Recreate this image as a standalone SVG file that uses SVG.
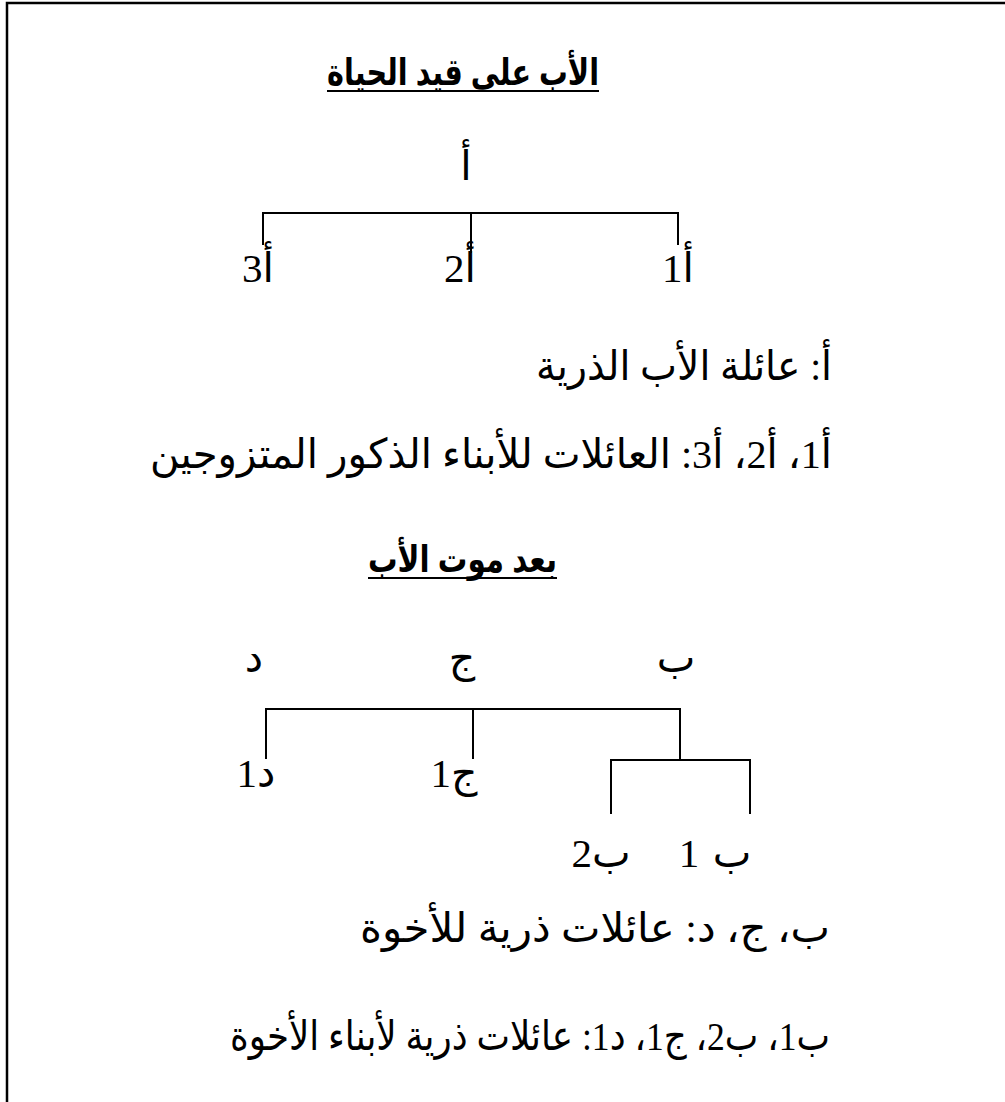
<svg xmlns="http://www.w3.org/2000/svg" width="1005" height="1102" viewBox="0 0 1005 1102">
<style>
.t{font-family:"Liberation Serif","DejaVu Sans",serif;font-size:41px;fill:#000}
.h{font-family:"Liberation Sans","DejaVu Sans",sans-serif;font-size:37px;font-weight:bold;fill:#000}
.c{stroke:#000;stroke-width:2;fill:none}
</style>
<rect width="1005" height="1102" fill="#fff"/>
<path d="M7,1102 V3 H1005" stroke="#000" stroke-width="2.5" fill="none"/>
<g id="title1">
<text class="h" x="463" y="85" text-anchor="middle" textLength="272" lengthAdjust="spacingAndGlyphs">الأب على قيد الحياة</text>
<line class="c" x1="327" y1="91" x2="599" y2="91"/>
</g>
<g id="title2">
<text class="h" x="462.5" y="572" text-anchor="middle" textLength="189" lengthAdjust="spacingAndGlyphs">بعد موت الأب</text>
<line class="c" x1="368" y1="578" x2="557" y2="578"/>
</g>
<g id="connectors">
<path class="c" d="M263,245 V213 H678 V245 M471,213 V253"/>
<path class="c" d="M266,759 V709 H680 V760 M473,709 V759 M611,814 V760 H750 V814"/>
</g>
<g id="nodeA"><text class="t" x="466" y="180" text-anchor="middle">أ</text></g>
<g id="nodeA3"><text class="t" x="258" y="282" text-anchor="middle">أ3</text></g>
<g id="nodeA2"><text class="t" x="460" y="282" text-anchor="middle">أ2</text></g>
<g id="nodeA1"><text class="t" x="678" y="282" text-anchor="middle">أ1</text></g>
<g id="nodeD"><text class="t" x="254" y="672" text-anchor="middle">د</text></g>
<g id="nodeJ"><text class="t" x="462" y="672" text-anchor="middle">ج</text></g>
<g id="nodeB"><text class="t" x="676" y="672" text-anchor="middle">ب</text></g>
<g id="nodeD1"><text class="t" x="256" y="787" text-anchor="middle">د1</text></g>
<g id="nodeJ1"><text class="t" x="454" y="787" text-anchor="middle">ج1</text></g>
<g id="nodeB2"><text class="t" x="601" y="867" text-anchor="middle">ب2</text></g>
<g id="nodeB1"><text class="t" x="689" y="867" text-anchor="middle">1</text><text class="t" x="732" y="867" text-anchor="middle">ب</text></g>
<g id="legend">
<text class="t" x="832" y="380" text-anchor="end" textLength="296" lengthAdjust="spacingAndGlyphs">أ: عائلة الأب الذرية</text>
<text class="t" x="832" y="468" text-anchor="end" textLength="682" lengthAdjust="spacingAndGlyphs">أ1، أ2، أ3: العائلات للأبناء الذكور المتزوجين</text>
<text class="t" x="830" y="942" text-anchor="end" textLength="470" lengthAdjust="spacingAndGlyphs">ب، ج، د: عائلات ذرية للأخوة</text>
<text class="t" x="830" y="1050" text-anchor="end" textLength="600" lengthAdjust="spacingAndGlyphs">ب1، ب2، ج1، د1: عائلات ذرية لأبناء الأخوة</text>
</g>
</svg>
